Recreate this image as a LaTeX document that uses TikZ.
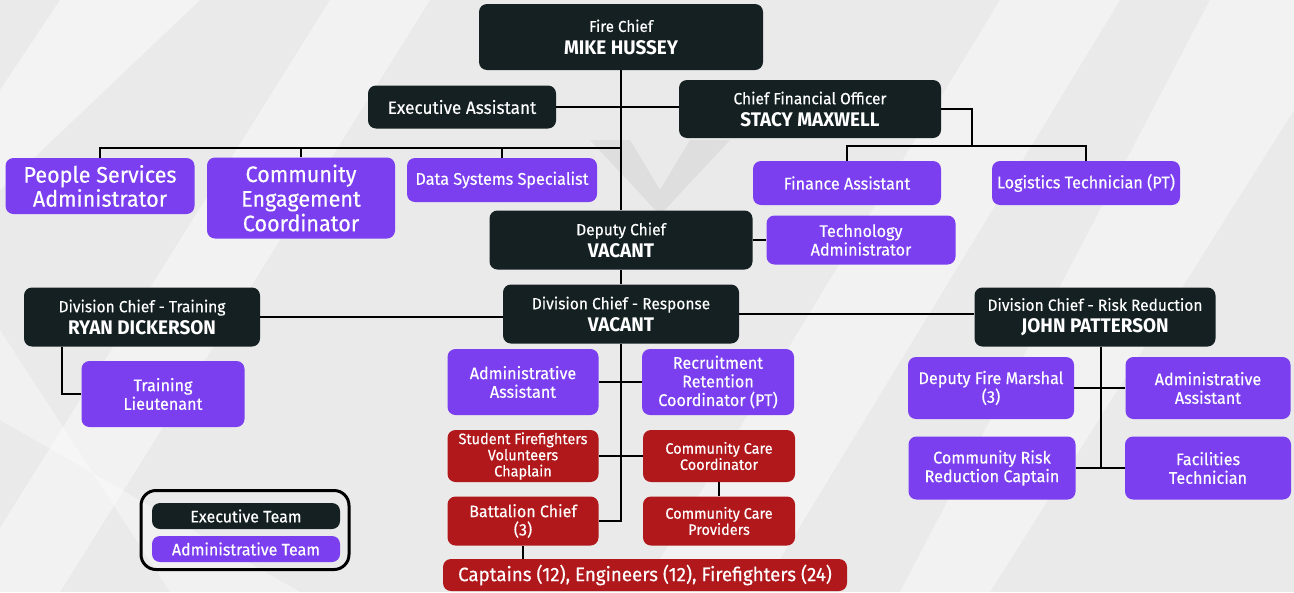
\documentclass[tikz,border=0pt]{standalone}
\usepackage{fontspec}
\setmainfont{Fira Sans}[FakeStretch=0.96,UprightFeatures={FakeBold=0.3}]
\definecolor{execcol}{HTML}{142022}
\definecolor{admincol}{HTML}{7B3FF0}
\definecolor{crewcol}{HTML}{B1181B}
\definecolor{bgcol}{HTML}{EAEAEA}
\newcommand{\bigname}[1]{{\fontsize{11.2}{12}\selectfont\bfseries #1}}

\begin{document}
\begin{tikzpicture}[x=0.02cm,y=-0.02cm,
	box/.style={rounded corners=0.16cm,text=white,align=center,inner sep=0pt,font=\fontsize{9.6}{10.6}\selectfont},
	exec/.style={box,fill=execcol,font=\fontsize{9.2}{12.4}\selectfont},
	admin/.style={box,fill=admincol},
	crew/.style={box,fill=crewcol,font=\fontsize{8.6}{9.2}\selectfont},
	sz/.style 2 args={minimum width=#1*0.02cm,minimum height=#2*0.02cm},
	link/.style={line width=0.04cm}]
	\useasboundingbox (0,0) rectangle (1294,592);
	\fill[bgcol] (0,0) rectangle (1294,592);
	\fill[white,opacity=0.45] (60,0) -- (200,0) -- (0,190) -- (0,90) -- cycle;
	\fill[white,opacity=0.4] (330,0) -- (430,0) -- (60,592) -- (-40,592) -- cycle;
	\fill[white,opacity=0.35] (0,330) -- (0,420) -- (300,592) -- (170,592) -- cycle;
	\fill[white,opacity=0.4] (1000,0) -- (1120,0) -- (760,592) -- (640,592) -- cycle;
	\fill[white,opacity=0.4] (1210,0) -- (1294,0) -- (1294,110) -- (990,592) -- (900,592) -- cycle;
	\fill[black,opacity=0.05] (590,140) -- (630,140) -- (660,190) -- (690,140) -- (730,140) -- (660,215) -- cycle;

	\draw (621,37) node (fire) [exec,sz={284}{66},font=\fontsize{9}{12.6}\selectfont] {Fire Chief\\\bigname{MIKE HUSSEY}};
	\draw (462,107) node (ea) [exec,sz={188}{43},font=\fontsize{10.2}{12}\selectfont] {Executive Assistant};
	\draw (810,109) node (cfo) [exec,sz={262}{58}] {Chief Financial Officer\\\bigname{STACY MAXWELL}};
	\draw (100,186) node (psa) [admin,sz={189}{56},font=\fontsize{12.8}{13.7}\selectfont] {People Services\\Administrator};
	\draw (301,198) node (cec) [admin,sz={188}{81},font=\fontsize{12.8}{14}\selectfont] {Community\\Engagement\\Coordinator};
	\draw (502,180) node (dss) [admin,sz={190}{44}] {Data Systems Specialist};
	\draw (847,183) node (fa) [admin,sz={188}{44}] {Finance Assistant};
	\draw (1086,183) node (lt) [admin,sz={188}{44}] {Logistics Technician (PT)};
	\draw (621,240) node (deputy) [exec,sz={263}{59}] {Deputy Chief\\\bigname{VACANT}};
	\draw (861,240) node (tech) [admin,sz={189}{49}] {Technology\\Administrator};
	\draw (142,317) node (training) [exec,sz={236}{59}] {Division Chief - Training\\\bigname{RYAN DICKERSON}};
	\draw (621,314) node (response) [exec,sz={236}{59}] {Division Chief - Response\\\bigname{VACANT}};
	\draw (1095,317) node (risk) [exec,sz={241}{59}] {Division Chief - Risk Reduction\\\bigname{JOHN PATTERSON}};
	\draw (163,394) node (lieut) [admin,sz={163}{66}] {Training\\Lieutenant};
	\draw (523,382) node (aa) [admin,sz={151}{66}] {Administrative\\Assistant};
	\draw (718,382) node (recruit) [admin,sz={152}{66}] {Recruitment\\Retention\\Coordinator (PT)};
	\draw (523,456) node (student) [crew,sz={151}{52}] {Student Firefighters\\Volunteers\\Chaplain};
	\draw (719,456) node (ccc) [crew,sz={152}{52}] {Community Care\\Coordinator};
	\draw (523,521) node (battalion) [crew,sz={151}{49},font=\fontsize{9.5}{10.4}\selectfont] {Battalion Chief\\(3)};
	\draw (719,521) node (ccp) [crew,sz={152}{49}] {Community Care\\Providers};
	\draw (645,575) node (captains) [crew,sz={404}{32},font=\fontsize{11.1}{12}\selectfont] {Captains (12), Engineers (12), Firefighters (24)};
	\draw (991,388) node (dfm) [admin,sz={166}{62}] {Deputy Fire Marshal\\(3)};
	\draw (1208,388) node (raa) [admin,sz={165}{62}] {Administrative\\Assistant};
	\draw (992,468) node (crrc) [admin,sz={167}{63}] {Community Risk\\Reduction Captain};
	\draw (1208,468) node (fac) [admin,sz={166}{63}] {Facilities\\Technician};

	\draw (245,530) node (legend) [draw,line width=0.06cm,rounded corners=0.3cm,sz={208}{79}] {};
	\draw (246,516) node (exteam) [exec,sz={188}{26},font=\fontsize{9.5}{10}\selectfont] {Executive Team};
	\draw (246,549) node (adteam) [admin,sz={188}{26},font=\fontsize{9.5}{10}\selectfont] {Administrative Team};

	\coordinate (hub1) at (621,148);
	\coordinate (cfohub) at (972,146);
	\coordinate (tstub) at (62,347);
	\coordinate (rbot) at (621,521);
	\coordinate (rrtop) at (1101,347);
	\coordinate (rrbot) at (1101,468);

	\draw[link] (fire) -- (deputy);
	\draw[link] (ea.east) -- (ea.east -| cfo.west);
	\draw[link] (psa) |- (hub1);
	\draw[link] (cec) -- (cec |- hub1);
	\draw[link] (dss) -- (dss |- hub1);
	\draw[link] (cfo.east) -| (cfohub);
	\draw[link] (fa) |- (cfohub) -| (lt);
	\draw[link] (deputy) -- (tech);
	\draw[link] (deputy) -- (response);
	\draw[link] (training.east) -- (training.east -| response.west);
	\draw[link] (response.east) -- (response.east -| risk.west);
	\draw[link] (tstub) |- (lieut);
	\draw[link] (response) -- (rbot) -- (battalion);
	\draw[link] (aa) -- (recruit);
	\draw[link] (student) -- (ccc);
	\draw[link] (ccc) -- (ccp);
	\draw[link] (battalion) -- (battalion |- captains.north);
	\draw[link] (rrtop) -- (rrbot);
	\draw[link] (dfm) -- (raa);
	\draw[link] (crrc) -- (fac);
\end{tikzpicture}
\end{document}
